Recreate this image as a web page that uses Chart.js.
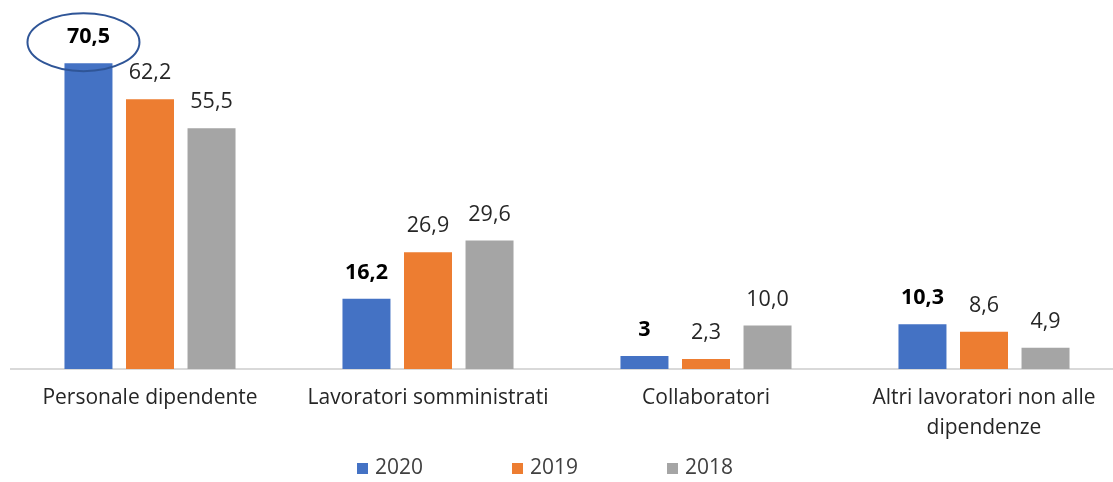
<!DOCTYPE html>
<html>
<head>
<meta charset="utf-8">
<script src="https://cdn.jsdelivr.net/npm/chart.js@4/dist/chart.umd.min.js"></script>
<style>
html,body{margin:0;padding:0;background:#fff;overflow:hidden;width:1113px;height:482px;}
#wrap{width:1125px;height:482px;}
</style>
</head>
<body>
<div id="wrap"><canvas id="c" width="1125" height="482"></canvas></div>
<script>
const categories = [
  'Personale dipendente',
  'Lavoratori somministrati',
  'Collaboratori',
  ['Altri lavoratori non alle', 'dipendenze']
];
const seriesNames = ['2020', '2019', '2018'];
const values2020 = [70.5, 16.2, 3, 10.3];
const values2019 = [62.2, 26.9, 2.3, 8.6];
const values2018 = [55.5, 29.6, 10.0, 4.9];
const colors = ['#4472c4', '#ed7d31', '#a5a5a5'];

const FONT = "'Open Sans', 'DejaVu Sans', sans-serif";

function fmt(v, dsIndex) {
  if (dsIndex === 0) return String(v).replace('.', ',');
  return v.toFixed(1).replace('.', ',');
}

const labelPlugin = {
  id: 'labels',
  afterDatasetsDraw(chart) {
    const ctx = chart.ctx;
    ctx.save();
    chart.data.datasets.forEach((ds, di) => {
      const meta = chart.getDatasetMeta(di);
      meta.data.forEach((bar, i) => {
        ctx.font = (di === 0 ? 'bold ' : '') + '21.5px ' + FONT;
        ctx.fillStyle = di === 0 ? '#000000' : '#262626';
        ctx.textAlign = 'center';
        ctx.textBaseline = 'middle';
        ctx.fillText(fmt(ds.data[i], di), bar.x, bar.y - 26);
      });
    });
    // ellipse around highlighted value
    const b = chart.getDatasetMeta(0).data[0];
    ctx.beginPath();
    ctx.ellipse(b.x - 5, b.y - 21, 56, 29, 0, 0, Math.PI * 2);
    ctx.strokeStyle = '#2f5597';
    ctx.lineWidth = 2;
    ctx.stroke();
    // legend
    ctx.font = '21px ' + FONT;
    ctx.textAlign = 'left';
    ctx.textBaseline = 'middle';
    chart.data.datasets.forEach((ds, di) => {
      const x = 357 + di * 155;
      const y = 468.5;
      ctx.fillStyle = ds.backgroundColor;
      ctx.fillRect(x, y - 5.5, 11, 11);
      ctx.fillStyle = '#404040';
      ctx.fillText(ds.label, x + 18, y);
    });
    ctx.restore();
  }
};

new Chart(document.getElementById('c'), {
  type: 'bar',
  data: {
    labels: categories,
    datasets: [
      { label: seriesNames[0], data: values2020, backgroundColor: colors[0] },
      { label: seriesNames[1], data: values2019, backgroundColor: colors[1] },
      { label: seriesNames[2], data: values2018, backgroundColor: colors[2] }
    ]
  },
  options: {
    responsive: false,
    animation: false,
    events: [],
    layout: { padding: { left: 11, right: 2, top: 22, bottom: 25 } },
    datasets: { bar: { categoryPercentage: 0.664, barPercentage: 0.78 } },
    plugins: { legend: { display: false }, tooltip: { enabled: false } },
    scales: {
      x: {
        grid: { display: false, drawTicks: false },
        border: { display: true, color: '#d9d9d9', width: 2 },
        ticks: {
          color: '#262626',
          font: { family: FONT, size: 21, lineHeight: 1.43 },
          padding: 14,
          maxRotation: 0,
          autoSkip: false
        }
      },
      y: {
        display: false,
        min: 0,
        max: 80
      }
    }
  },
  plugins: [labelPlugin]
});
</script>
</body>
</html>
